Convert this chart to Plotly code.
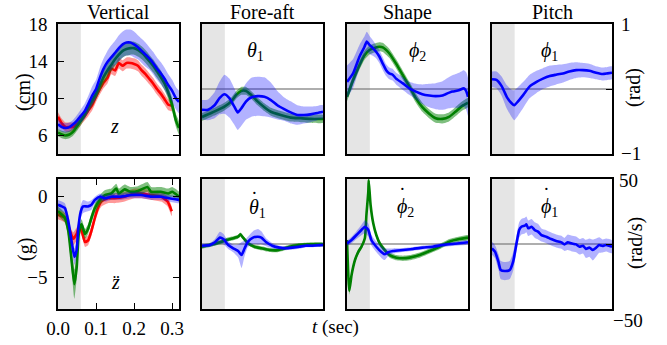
import plotly.graph_objects as go

W, H = 667, 345

# ---------------- data ----------------
# Vertical: z (cm)
T_Z = [0.00, 0.01, 0.02, 0.03, 0.04, 0.05, 0.06, 0.07, 0.08, 0.09, 0.10, 0.11, 0.12, 0.13, 0.14, 0.15,
       0.16, 0.17, 0.18, 0.19, 0.20, 0.21, 0.22, 0.23, 0.24, 0.25, 0.26, 0.27, 0.28, 0.29, 0.30, 0.31, 0.318]
Z_BLUE = [7.2, 6.9, 6.8, 6.9, 7.2, 7.6, 8.1, 8.6, 9.4, 10.3, 11.0, 12.2, 13.2, 13.9, 14.4, 14.9, 15.4,
          15.8, 16.0, 16.0, 15.8, 15.5, 15.1, 14.7, 14.3, 13.8, 13.2, 12.7, 12.1, 11.4, 10.8, 10.0, 9.6]
Z_BLUE_SD = [0.5, 0.5, 0.5, 0.5, 0.5, 0.6, 0.7, 0.8, 0.9, 1.0, 1.0, 1.1, 1.1, 1.2, 1.3, 1.3, 1.4,
             1.4, 1.4, 1.4, 1.4, 1.3, 1.3, 1.3, 1.2, 1.2, 1.2, 1.2, 1.2, 1.2, 1.2, 1.2, 1.2]
Z_GREEN = [6.3, 6.1, 6.0, 6.1, 6.4, 7.0, 7.6, 8.3, 9.1, 9.8, 10.5, 11.4, 12.3, 13.0, 13.6, 14.2, 14.7,
           15.1, 15.3, 15.4, 15.4, 15.2, 14.9, 14.5, 14.0, 13.5, 12.9, 12.3, 11.6, 10.6, 9.3, 7.6, 6.8]
Z_GREEN_SD = [0.4, 0.4, 0.4, 0.4, 0.4, 0.5, 0.5, 0.5, 0.6, 0.6, 0.6, 0.7, 0.7, 0.7, 0.7, 0.7, 0.7,
              0.7, 0.7, 0.7, 0.7, 0.7, 0.7, 0.7, 0.7, 0.7, 0.7, 0.7, 0.7, 0.7, 0.7, 0.7, 0.7]
T_ZR = [0.00, 0.01, 0.02, 0.03, 0.04, 0.05, 0.06, 0.07, 0.08, 0.09, 0.10, 0.11, 0.12, 0.13, 0.14, 0.15,
        0.16, 0.17, 0.18, 0.19, 0.20, 0.21, 0.22, 0.23, 0.24, 0.25, 0.26, 0.27, 0.28, 0.29, 0.30]
Z_RED = [8.0, 7.3, 6.9, 6.9, 6.9, 7.2, 7.6, 8.1, 8.7, 9.3, 10.2, 11.0, 11.7, 12.2, 13.2, 13.0, 13.8,
         13.5, 13.8, 13.8, 13.7, 13.5, 13.0, 12.6, 12.1, 11.6, 11.0, 10.5, 9.9, 9.3, 9.2]
Z_RED_SD = [0.5, 0.5, 0.5, 0.5, 0.5, 0.5, 0.5, 0.5, 0.6, 0.6, 0.6, 0.6, 0.6, 0.6, 0.6, 0.6, 0.6,
            0.6, 0.6, 0.6, 0.6, 0.6, 0.6, 0.6, 0.6, 0.6, 0.6, 0.6, 0.6, 0.6, 0.6]

# Vertical: z double-dot (g)
T_ZDD_B = [0.000, 0.010, 0.018, 0.027, 0.036, 0.043, 0.049, 0.053, 0.060, 0.066, 0.079, 0.088, 0.097,
           0.110, 0.123, 0.140, 0.166, 0.192, 0.218, 0.245, 0.271, 0.292, 0.318]
ZDD_B = [-0.5, -0.6, -0.7, -1.5, -2.8, -3.7, -3.3, -2.0, -0.9, -0.6, -0.6, -0.5, -0.2, 0.0, -0.1, 0.0,
         0.0, 0.1, 0.1, 0.0, 0.0, -0.1, -0.2]
ZDD_B_SD = [0.3, 0.3, 0.3, 0.4, 0.5, 0.5, 0.5, 0.4, 0.4, 0.4, 0.3, 0.3, 0.2, 0.2, 0.2, 0.2, 0.2, 0.2,
            0.2, 0.2, 0.2, 0.2, 0.2]
T_ZDD_G = [0.000, 0.018, 0.027, 0.036, 0.043, 0.049, 0.055, 0.062, 0.071, 0.079, 0.088, 0.097, 0.110,
           0.123, 0.140, 0.153, 0.160, 0.175, 0.190, 0.210, 0.235, 0.245, 0.270, 0.290, 0.300, 0.318]
ZDD_G = [-0.9, -1.3, -2.1, -4.0, -5.4, -4.4, -2.2, -1.7, -2.3, -2.0, -1.3, -0.7, -0.2, 0.1, 0.2, 0.5,
         0.2, 0.45, 0.3, 0.35, 0.6, 0.3, 0.3, 0.2, 0.3, 0.0]
ZDD_G_SD = [0.3, 0.3, 0.4, 0.6, 0.9, 0.7, 0.4, 0.3, 0.3, 0.3, 0.3, 0.3, 0.3, 0.3, 0.3, 0.3, 0.3, 0.3,
            0.3, 0.3, 0.3, 0.3, 0.3, 0.3, 0.3, 0.3]
T_ZDD_R = [0.000, 0.018, 0.031, 0.040, 0.049, 0.055, 0.062, 0.071, 0.079, 0.088, 0.097, 0.105, 0.114,
           0.131, 0.149, 0.175, 0.201, 0.218, 0.245, 0.271, 0.288, 0.299]
ZDD_R = [-1.1, -1.3, -2.1, -2.6, -2.3, -1.9, -2.1, -2.8, -2.7, -2.1, -1.3, -0.7, -0.3, -0.1, -0.1, 0.0,
         0.2, 0.2, 0.1, 0.0, -0.3, -0.9]
ZDD_R_SD = [0.3, 0.3, 0.3, 0.4, 0.4, 0.3, 0.3, 0.3, 0.3, 0.3, 0.3, 0.3, 0.3, 0.3, 0.3, 0.3, 0.3, 0.3,
            0.3, 0.3, 0.3, 0.3]

# Fore-aft: theta1 (rad)
T_TH_B = [0.000, 0.016, 0.033, 0.046, 0.059, 0.072, 0.085, 0.094, 0.103, 0.116, 0.129, 0.146, 0.164,
          0.181, 0.198, 0.216, 0.233, 0.251, 0.268, 0.285, 0.303, 0.318]
TH_B = [-0.32, -0.32, -0.25, -0.14, -0.08, -0.14, -0.27, -0.36, -0.30, -0.19, -0.13, -0.11, -0.12,
        -0.17, -0.25, -0.31, -0.36, -0.40, -0.40, -0.39, -0.37, -0.35]
TH_B_SD = [0.15, 0.16, 0.20, 0.25, 0.30, 0.30, 0.28, 0.27, 0.27, 0.28, 0.30, 0.30, 0.30, 0.27, 0.22,
           0.18, 0.17, 0.15, 0.13, 0.12, 0.11, 0.10]
T_TH_G = [0.000, 0.024, 0.042, 0.059, 0.077, 0.090, 0.103, 0.116, 0.129, 0.146, 0.164, 0.181, 0.207,
          0.233, 0.259, 0.285, 0.318]
TH_G = [-0.43, -0.37, -0.32, -0.27, -0.19, -0.09, -0.03, -0.03, -0.09, -0.19, -0.28, -0.35, -0.40,
        -0.44, -0.45, -0.46, -0.46]
TH_G_SD = [0.06] * 17

# Shape: phi2 (rad)
T_PH2_B = [0.000, 0.016, 0.033, 0.046, 0.052, 0.059, 0.068, 0.077, 0.085, 0.094, 0.103, 0.111, 0.120,
           0.129, 0.146, 0.164, 0.181, 0.198, 0.216, 0.233, 0.251, 0.259, 0.277, 0.294, 0.307, 0.313, 0.318]
PH2_B = [0.11, 0.24, 0.50, 0.65, 0.73, 0.68, 0.63, 0.57, 0.50, 0.39, 0.29, 0.24, 0.22, 0.16, 0.09,
         0.01, -0.04, -0.08, -0.10, -0.11, -0.10, -0.08, -0.04, -0.02, 0.01, -0.03, -0.12]
PH2_B_SD = [0.25, 0.22, 0.18, 0.16, 0.15, 0.14, 0.12, 0.10, 0.10, 0.10, 0.09, 0.09, 0.09, 0.09, 0.10,
            0.10, 0.12, 0.15, 0.18, 0.20, 0.22, 0.23, 0.25, 0.27, 0.28, 0.29, 0.29]
T_PH2_G = [0.000, 0.016, 0.033, 0.046, 0.059, 0.072, 0.085, 0.094, 0.111, 0.129, 0.146, 0.164, 0.181,
           0.198, 0.216, 0.233, 0.251, 0.268, 0.285, 0.303, 0.318]
PH2_G = [-0.12, 0.14, 0.37, 0.52, 0.60, 0.63, 0.65, 0.64, 0.55, 0.39, 0.22, 0.04, -0.14, -0.28, -0.38,
         -0.45, -0.46, -0.43, -0.35, -0.26, -0.21]
PH2_G_SD = [0.07] * 21

# Pitch: phi1 (rad)
T_PH1 = [0.000, 0.012, 0.026, 0.039, 0.052, 0.059, 0.069, 0.083, 0.100, 0.118, 0.135, 0.153, 0.170,
         0.188, 0.205, 0.223, 0.241, 0.258, 0.276, 0.293, 0.306, 0.318]
PH1 = [0.15, 0.14, 0.04, -0.12, -0.22, -0.25, -0.19, -0.09, 0.04, 0.11, 0.16, 0.20, 0.22, 0.24, 0.27,
       0.29, 0.29, 0.28, 0.25, 0.23, 0.24, 0.25]
PH1_SD = [0.12, 0.13, 0.15, 0.18, 0.21, 0.23, 0.22, 0.20, 0.18, 0.17, 0.16, 0.16, 0.15, 0.14, 0.13,
          0.12, 0.11, 0.11, 0.10, 0.10, 0.10, 0.10]

# Fore-aft: theta1 dot (rad/s)
T_THD_B = [0.000, 0.021, 0.034, 0.047, 0.056, 0.069, 0.082, 0.095, 0.104, 0.112, 0.121, 0.134, 0.147,
           0.156, 0.169, 0.186, 0.204, 0.221, 0.238, 0.256, 0.273, 0.290, 0.318]
THD_B = [-1.3, -0.8, 1.3, 4.9, 3.8, -0.8, -3.3, -5.4, -8.5, -3.3, 1.8, 4.9, 5.6, 4.9, 1.3, -1.5, -2.8,
         -3.3, -2.8, -2.1, -1.3, -1.3, -0.8]
THD_B_SD = [1.5, 1.5, 2.5, 4.5, 4.0, 3.0, 3.0, 5.0, 10.0, 6.0, 4.0, 5.0, 6.0, 5.0, 3.0, 2.0, 1.5, 1.5,
            1.5, 1.5, 1.2, 1.2, 1.2]
T_THD_G = [0.000, 0.021, 0.047, 0.064, 0.082, 0.095, 0.101, 0.108, 0.121, 0.138, 0.156, 0.177, 0.195,
           0.212, 0.230, 0.256, 0.282, 0.318]
THD_G = [-2.1, -0.8, 1.3, 3.1, 4.4, 5.6, 7.4, 4.9, 0.5, -2.1, -3.3, -4.6, -4.9, -3.8, -2.1, -0.8, -0.3, -0.3]
THD_G_SD = [1.5] * 18

# Shape: phi2 dot (rad/s)
T_PH2D_G = [0.000, 0.006, 0.012, 0.021, 0.030, 0.038, 0.047, 0.051, 0.056, 0.057, 0.062, 0.069, 0.077,
            0.086, 0.099, 0.112, 0.130, 0.147, 0.164, 0.191, 0.217, 0.243, 0.269, 0.295, 0.318]
PH2D_G = [3.0, -36.0, -23.8, -12.3, -5.9, -2.1, 4.4, 22.3, 40.3, 49.0, 30.0, 15.9, 6.9, 0.5, -4.6, -8.5,
          -10.5, -11.0, -10.5, -8.5, -5.4, -2.1, 1.8, 3.8, 4.9]
PH2D_G_SD = [2, 3, 3, 2, 2, 2, 2, 3, 4, 5, 3, 2, 2, 2, 2, 2, 2, 2, 2, 2, 2, 2, 2, 2, 2]
T_PH2D_B = [0.000, 0.012, 0.025, 0.038, 0.047, 0.056, 0.064, 0.077, 0.091, 0.099, 0.108, 0.121, 0.147,
            0.173, 0.199, 0.225, 0.251, 0.278, 0.318]
PH2D_B = [0.5, 3.1, 6.9, 10.8, 13.3, 10.8, 3.1, -2.1, -6.4, -7.9, -6.4, -5.4, -4.6, -3.8, -2.8, -2.1,
          -0.8, 0.0, 1.3]
PH2D_B_SD = [2, 2.5, 3, 4, 5, 5, 4, 4, 4.5, 4.5, 3, 2, 1.5, 1.5, 1.5, 1.5, 1.5, 1.5, 1.5]

# Pitch: phi1 dot (rad/s)
T_PH1D = [0.000, 0.008, 0.017, 0.023, 0.034, 0.047, 0.056, 0.065, 0.072, 0.078, 0.087, 0.091, 0.096,
          0.105, 0.113, 0.122, 0.131, 0.144, 0.157, 0.170, 0.184, 0.192, 0.201, 0.210, 0.223, 0.232,
          0.241, 0.249, 0.258, 0.267, 0.276, 0.284, 0.293, 0.302, 0.318]
PH1D = [-3.3, -5.9, -13.6, -20.0, -20.8, -20.0, -13.6, 0.5, 10.8, 13.3, 14.1, 15.1, 12.1, 13.3, 10.8,
        9.5, 6.9, 5.6, 3.8, 2.3, 1.3, -0.3, 1.3, 0.5, -0.3, -2.1, -1.3, -3.8, -2.8, -4.6, -2.8, -0.8,
        -1.5, -0.8, -2.1]
PH1D_SD = [5, 5, 6, 7, 7, 7, 7, 6, 6, 6, 6, 6, 6, 6, 6, 6, 5, 5, 5, 5, 5, 5, 6, 6, 6, 6, 6, 7, 7, 8,
           7, 6, 5, 5, 5]

TITLES = ["Vertical", "Fore-aft", "Shape", "Pitch"]
T_RANGE = [0, 0.318]
STANCE_END = 0.06

# ---------------- styling / layout ----------------
FONT = "'Liberation Serif', 'Times New Roman', 'DejaVu Serif', serif"
COL_PX = [(58, 179), (202, 323), (347, 468), (492, 612)]
ROW_PX = [(24, 154), (179, 309)]
BLUE, GREEN, RED = "0,0,255", "0,128,0", "255,0,0"

fig = go.Figure()


def axn(k):
    return ("x" if k == 1 else f"x{k}"), ("y" if k == 1 else f"y{k}")


def series(k, t, m, s, rgb, a):
    xa, ya = axn(k)
    up = [mi + si for mi, si in zip(m, s)]
    lo = [mi - si for mi, si in zip(m, s)]
    fig.add_trace(go.Scatter(x=list(t) + list(t)[::-1], y=up + lo[::-1], mode="lines", fill="toself",
                             fillcolor=f"rgba({rgb},{a})", line=dict(width=0, shape="spline", smoothing=0.5),
                             hoverinfo="skip", showlegend=False, xaxis=xa, yaxis=ya))
    fig.add_trace(go.Scatter(x=t, y=m, mode="lines", line=dict(color=f"rgb({rgb})", width=2.6,
                                                                shape="spline", smoothing=0.5),
                             showlegend=False, xaxis=xa, yaxis=ya))


series(1, T_ZR, Z_RED, Z_RED_SD, RED, 0.4)
series(1, T_Z, Z_GREEN, Z_GREEN_SD, GREEN, 0.5)
series(1, T_Z, Z_BLUE, Z_BLUE_SD, BLUE, 0.3)
series(2, T_TH_G, TH_G, TH_G_SD, GREEN, 0.5)
series(2, T_TH_B, TH_B, TH_B_SD, BLUE, 0.3)
series(3, T_PH2_G, PH2_G, PH2_G_SD, GREEN, 0.5)
series(3, T_PH2_B, PH2_B, PH2_B_SD, BLUE, 0.3)
series(4, T_PH1, PH1, PH1_SD, BLUE, 0.3)
series(5, T_ZDD_R, ZDD_R, ZDD_R_SD, RED, 0.4)
series(5, T_ZDD_G, ZDD_G, ZDD_G_SD, GREEN, 0.5)
series(5, T_ZDD_B, ZDD_B, ZDD_B_SD, BLUE, 0.3)
series(6, T_THD_G, THD_G, THD_G_SD, GREEN, 0.5)
series(6, T_THD_B, THD_B, THD_B_SD, BLUE, 0.3)
series(7, T_PH2D_G, PH2D_G, PH2D_G_SD, GREEN, 0.5)
series(7, T_PH2D_B, PH2D_B, PH2D_B_SD, BLUE, 0.3)
series(8, T_PH1D, PH1D, PH1D_SD, BLUE, 0.3)

YRANGES = {1: [4, 18], 2: [-1, 1], 3: [-1, 1], 4: [-1, 1],
           5: [-6.93, 1.09], 6: [-50, 50], 7: [-50, 50], 8: [-50, 50]}

layout = dict(width=W, height=H, margin=dict(l=0, r=0, t=0, b=0, autoexpand=False), plot_bgcolor="white",
              paper_bgcolor="white", font=dict(family=FONT, size=19, color="black"), showlegend=False)
shapes = []
for k in range(1, 9):
    r, c = (0 if k <= 4 else 1), (k - 1) % 4
    x0, x1 = COL_PX[c]
    y0, y1 = ROW_PX[r]
    xkey = "xaxis" if k == 1 else f"xaxis{k}"
    ykey = "yaxis" if k == 1 else f"yaxis{k}"
    xa, ya = axn(k)
    common = dict(showline=True, mirror=True, linecolor="black", linewidth=1.5, showgrid=False,
                  zeroline=False, fixedrange=True, showticklabels=False, ticks="", automargin=False)
    xax = dict(domain=[x0 / W, x1 / W], range=T_RANGE, anchor=ya, **common)
    yax = dict(domain=[1 - y1 / H, 1 - y0 / H], range=YRANGES[k], anchor=xa, **common)
    tick_style = dict(ticks="inside", mirror="allticks", ticklen=6, tickwidth=1.2, tickcolor="black",
                      showticklabels=True, tickfont=dict(family=FONT, size=19, color="black"))
    if k == 1:
        yax.update(tick_style, tickvals=[6, 10, 14, 18], ticktext=["6", "10", "14", "18"], ticklabelstandoff=5)
    if k == 5:
        yax.update(tick_style, tickvals=[-5, 0], ticktext=["\u22125", "0"], ticklabelstandoff=5)
        xax.update(tick_style, tickvals=[0, 0.1, 0.2, 0.3], ticktext=["0.0", "0.1", "0.2", "0.3"],
                   ticklabelstandoff=1)
    if k in (4, 8):
        yax.update(side="right", ticks="inside", ticklen=6, tickwidth=1.2, tickcolor="black", tickvals=[0])
    layout[xkey] = xax
    layout[ykey] = yax
    shapes.append(dict(type="rect", xref=xa, yref=f"{ya} domain", x0=0, x1=STANCE_END, y0=0, y1=1,
                       fillcolor="#e5e5e5", line=dict(width=0), layer="below"))
    if c > 0:
        shapes.append(dict(type="line", xref=f"{xa} domain", yref=ya, x0=0, x1=1, y0=0, y1=0,
                           line=dict(color="rgba(120,120,120,0.8)", width=1.5), layer="below"))
layout["shapes"] = shapes


def P(x, y):
    return x / W, 1 - y / H


ann = []


def add_text(text, x, y, size=20, xanchor="center", yanchor="middle", angle=0):
    px, py = P(x, y)
    ann.append(dict(text=text, x=px, y=py, xref="paper", yref="paper", showarrow=False,
                    xanchor=xanchor, yanchor=yanchor, textangle=angle, font=dict(family=FONT, size=size)))


for c, title in enumerate(TITLES):
    add_text(title, (COL_PX[c][0] + COL_PX[c][1]) / 2, 12, size=20)

add_text("(cm)", 24, 92, angle=-90)
add_text("(g)", 25, 250, angle=-90)
add_text("(rad)", 634, 88, angle=-90)
add_text("(rad/s)", 635, 243, angle=-90)
add_text("1", 619, 25, size=19, xanchor="left")
add_text("\u22121", 619, 154, size=19, xanchor="left")
add_text("50", 617, 180, size=19, xanchor="left")
add_text("\u221250", 611, 320, size=19, xanchor="left")
add_text("<i>t</i> (sec)", 335, 327, size=19)

add_text("<i>z</i>", 114, 126)
add_text("<i>z\u0308</i>", 115, 282)
add_text("<i>\u03b8</i><sub>1</sub>", 255, 51)
add_text("<i>\u03d5</i><sub>2</sub>", 418, 51)
add_text("<i>\u03d5</i><sub>1</sub>", 549, 51)
# dotted (time-derivative) symbols: letter + subscript, with the dot drawn just above the letter
add_text("<i>\u03b8</i><sub>1</sub>", 257, 208)
add_text("<i>\u03d5</i><sub>2</sub>", 405, 207)
add_text("<i>\u03d5</i><sub>1</sub>", 549, 207)
add_text("\u02d9", 254, 199)
add_text("\u02d9", 402, 195)
add_text("\u02d9", 546, 195)
layout["annotations"] = ann

fig.update_layout(**layout)
fig.write_html("out.html", config={"displayModeBar": False},
               post_script="document.body.style.margin='0';document.body.style.overflow='hidden';")
